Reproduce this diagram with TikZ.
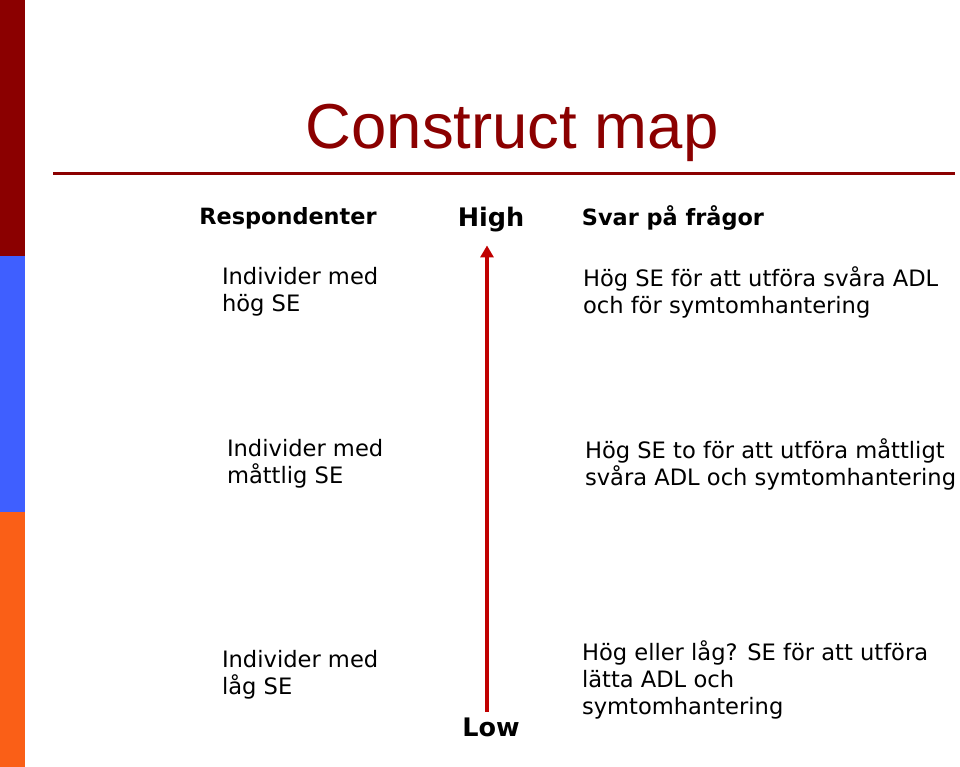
\documentclass[tikz,border=0pt]{standalone}
\usepackage{fontspec}
\setmainfont{DejaVu Sans}
\newfontfamily\titlefont{Liberation Sans}
\usepackage{xcolor}
\usetikzlibrary{arrows.meta,positioning}

\definecolor{barred}{HTML}{8B0000}
\definecolor{barblue}{HTML}{3F5FFF}
\definecolor{barorange}{HTML}{FA5F17}
\definecolor{rulered}{HTML}{8B0000}
\definecolor{arrowred}{HTML}{C00000}

\begin{document}
\begin{tikzpicture}[x=1pt, y=-1pt,
    every node/.style={inner sep=0pt, outer sep=0pt},
    body/.style={anchor=north west, align=left, font=\fontsize{22.6}{27}\selectfont},
    head/.style={font=\fontsize{22.4}{26}\selectfont\bfseries},
    level/.style={font=\fontsize{25.5}{30}\selectfont\bfseries}]
    \useasboundingbox (0,0) rectangle (960,767);
    \fill[white] (0,0) rectangle (960,767);

    % side bar
    \fill[barred] (0,0) rectangle (25,256);
    \fill[barblue] (0,256) rectangle (25,512);
    \fill[barorange] (0,512) rectangle (25,767);

    \node[text=rulered, font=\titlefont\fontsize{63.5}{70}\selectfont] (title) at (512,133) {Construct map};
    \draw[rulered, line width=3pt] (53,174) -- (955,174);

    \node[head] (resp) at (288,218) {Respondenter};
    \node[level] (high) at (491,220) {High};
    \node[head] (svar) at (673,218) {Svar på frågor};

    \node[body] (indhog) at (222,267) {Individer med\\hög SE};
    \node[body] (svarhog) at (583,267) {Hög SE för att utföra svåra ADL\\och för symtomhantering};

    \node[body] (indmatt) at (227,439) {Individer med\\måttlig SE};
    \node[body] (svarmatt) at (585,439) {Hög SE to för att utföra måttligt\\svåra ADL och symtomhantering};

    \node[body] (indlag) at (222,650) {Individer med\\låg SE};
    \node[body] (svarlag) at (582,641) {Hög eller låg? SE för att utföra\\lätta ADL och\\symtomhantering};

    \node[level] (low) at (491,727) {Low};

    \draw[arrowred, line width=3.5pt, -{Triangle[length=12pt, width=13pt]}, shorten <=6pt, shorten >=13pt] (low.north -| 487,0) -- (high.south -| 487,0);
\end{tikzpicture}
\end{document}
